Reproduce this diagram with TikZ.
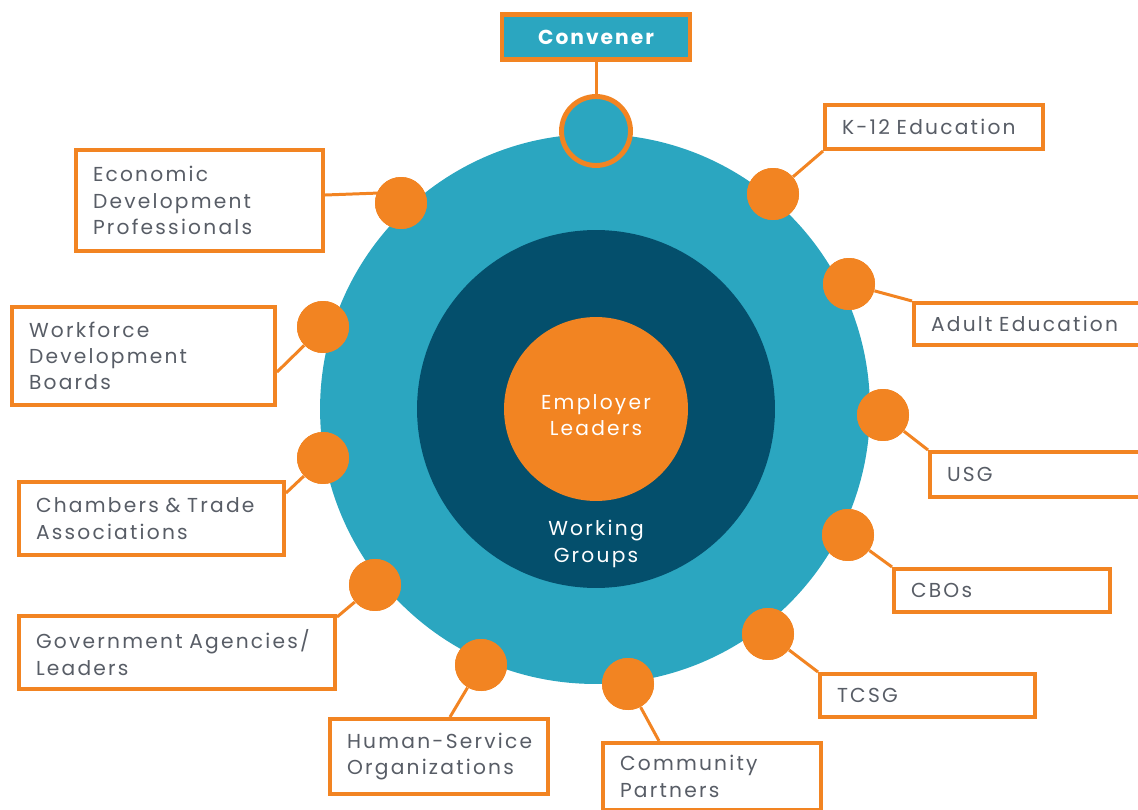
\documentclass[tikz,border=0pt]{standalone}
\usepackage{fontspec}
\setmainfont[LetterSpace=11,WordSpace=1.6]{Poppins}
\newfontfamily\convfont[LetterSpace=10]{Poppins}
\usetikzlibrary{positioning}
\definecolor{teal1}{HTML}{2BA6C0}
\definecolor{navy1}{HTML}{044F6C}
\definecolor{orng}{HTML}{F28422}
\definecolor{txtgray}{HTML}{585D66}
\tikzset{
  box/.style={draw=orng, line width=2.3pt, fill=white, anchor=north west, inner xsep=0.34cm, inner ysep=0pt, align=left, text=txtgray, font=\fontsize{11.5}{15}\selectfont},
  dot/.style={circle, fill=orng, minimum size=1.04cm, inner sep=0pt},
  conn/.style={draw=orng, line width=1.7pt},
  whitetxt/.style={text=white, align=center, font=\fontsize{11.5}{15}\selectfont},
}
\begin{document}
\begin{tikzpicture}[x=0.02cm, y=-0.02cm]
\clip (0,0) rectangle (1138,810);
\fill[white] (0,0) rectangle (1138,810);
% central circles
\node[circle, fill=teal1, minimum size=11cm, inner sep=0pt] (outer) at (595,409) {};
\node[circle, fill=navy1, minimum size=7.16cm, inner sep=0pt] (mid) at (596,409) {};
\node[circle, fill=orng, minimum size=3.68cm, inner sep=0pt] (core) at (596,409) {};
\node[whitetxt] (emp) at (596,415) {Employer\\Leaders};
\node[whitetxt] (wg) at (596,544) {Working\\Groups};
% convener
\node[draw=orng, line width=2.4pt, fill=teal1, minimum width=3.76cm, minimum height=0.9cm, inner sep=0pt, text=white, font=\convfont\bfseries\fontsize{11.5}{14}\selectfont] (conv) at (596,37) {Convener};
\node[circle, draw=orng, line width=2.8pt, fill=teal1, minimum size=1.38cm, inner sep=0pt] (convdot) at (596,131) {};
\draw[conn] (conv.south) -- (convdot.north);
% boxes
\node[box, text width=4.26cm, minimum height=2.02cm] (econ) at (74,148) {Economic\\Development\\Professionals};
\node[box, text width=4.58cm, minimum height=1.96cm] (wf) at (10,305) {Workforce\\Development\\Boards};
\node[box, text width=4.62cm, minimum height=1.46cm] (cham) at (17,480) {Chambers \& Trade\\Associations};
\node[box, text width=5.64cm, minimum height=1.46cm] (gov) at (17,614) {Government Agencies/\\Leaders};
\node[box, text width=3.68cm, minimum height=1.50cm] (hum) at (328,717) {\mbox{Human-Service}\\Organizations};
\node[box, text width=3.68cm, minimum height=1.34cm] (comm) at (601,741) {Community\\Partners};
\node[box, text width=3.62cm, minimum height=0.86cm] (tcsg) at (818,672) {TCSG};
\node[box, text width=3.64cm, minimum height=0.86cm] (cbo) at (892,567) {CBOs};
\node[box, text width=3.76cm, minimum height=0.90cm] (usg) at (928,450) {USG};
\node[box, text width=4.08cm, minimum height=0.84cm] (adult) at (912,301) {Adult Education};
\node[box, text width=3.68cm, minimum height=0.88cm] (k12) at (823,103) {K-12 Education};
% dots
\node[dot] (econd) at (401,203) {};
\node[dot] (wfd) at (323,327) {};
\node[dot] (chamd) at (323,458) {};
\node[dot] (govd) at (375,585) {};
\node[dot] (humd) at (481,665) {};
\node[dot] (commd) at (628,684) {};
\node[dot] (tcsgd) at (768,634) {};
\node[dot] (cbod) at (848,535) {};
\node[dot] (usgd) at (883,415) {};
\node[dot] (adultd) at (849,284) {};
\node[dot] (k12d) at (773,194) {};
% connectors
\coordinate (econend) at (380,193);
\draw[conn] ([yshift=0.11cm]econ.east) -- (econend);
\draw[conn] ([yshift=-0.32cm]wf.east) -- (wfd);
\draw[conn] ([yshift=-0.26cm]cham.north east) -- (chamd);
\draw[conn] ([yshift=-0.06cm]gov.north east) -- (govd);
\draw[conn] ([xshift=0.22cm]hum.north) -- (humd);
\draw[conn] ([xshift=-1.06cm]comm.north) -- (commd);
\draw[conn] (tcsg.north west) -- (tcsgd);
\draw[conn] (cbo.north west) -- (cbod);
\draw[conn] (usg.north west) -- (usgd);
\draw[conn] (adult.north west) -- (adultd);
\draw[conn] (k12.south west) -- (k12d);
% redraw dots on top
\foreach \d in {econd,wfd,chamd,govd,humd,commd,tcsgd,cbod,usgd,adultd,k12d}{\fill[orng] (\d) circle (0.52cm);}
\end{tikzpicture}
\end{document}
